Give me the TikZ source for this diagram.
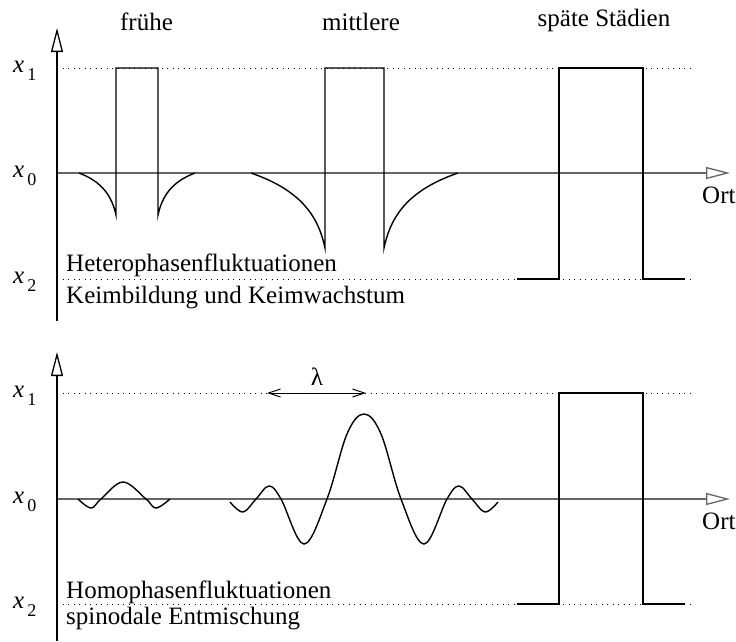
\documentclass[tikz,border=0pt]{standalone}
\usepackage{fontspec}
\setmainfont{Liberation Serif}
\usetikzlibrary{arrows.meta}

% label x with lowered index
\newcommand{\xsub}[1]{\textit{x}\kern3pt\raisebox{-8pt}{\fontsize{18}{18}\selectfont #1}}

\begin{document}
\begin{tikzpicture}[x=1pt, y=-1pt,
    every node/.style={font=\fontsize{25}{30}\selectfont, inner sep=0pt},
    axis/.style={line width=1.3pt, -{Triangle[open, length=24pt, width=12pt]}},
    base/.style={line width=1.3pt, black!60, -{Triangle[open, length=24pt, width=12pt]}},
    curve/.style={line width=1.4pt},
    level/.style={line width=0.9pt, dash pattern=on 1pt off 4.5pt},
    barb/.style={line width=1pt, {Straight Barb[length=12pt, width=8pt]}-{Straight Barb[length=12pt, width=8pt]}}]

    \useasboundingbox (0,0) rectangle (736,641);

    % === Axis limits ===
    \def\xo{57}   \def\xe{730}  \def\xd{690}
    % upper panel
    \def\ua{68}   \def\ub{173}  \def\uc{279}
    % lower panel
    \def\la{393}  \def\lb{499}  \def\lc{604}

    % === Titles ===
    \node[anchor=base] (early) at (146.5,30) {frühe};
    \node[anchor=base] (middle) at (361,30) {mittlere};
    \node[anchor=base] (late) at (604,26) {späte Städien};

    % === Upper panel: levels ===
    \draw[level] (\xo,\ua) -- (\xd,\ua);
    \draw[level] (\xo,\uc) -- (\xd,\uc);
    \draw[base] (\xo,\ub) -- (\xe,\ub);
    \draw[axis] (\xo,321) -- (\xo,28);

    \node[anchor=base west] (ua) at (13,\ua+4) {\xsub{1}};
    \node[anchor=base west] (ub) at (13,\ub+4) {\xsub{0}};
    \node[anchor=base west] (uc) at (13,\uc+4) {\xsub{2}};
    \node[anchor=base west] (ortu) at (702,203) {Ort};

    % early stage
    \draw[curve] (79,\ub) .. controls (103,182) and (112,197) .. (116,215)
        -- (116,\ua) -- (158,\ua) -- (158,215)
        .. controls (162,197) and (171,182) .. (195,\ub);
    % middle stage
    \draw[curve] (251,\ub) .. controls (300,190) and (318,215) .. (325,248)
        -- (325,\ua) -- (384,\ua) -- (384,248)
        .. controls (391,215) and (409,190) .. (458,\ub);
    % late stage
    \draw[curve] (517,\uc) -- (559,\uc) -- (559,\ua) -- (643,\ua) -- (643,\uc) -- (685,\uc);

    \node[anchor=base west] (hetero) at (66,271) {Heterophasenfluktuationen};
    \node[anchor=base west] (keim) at (66,303) {Keimbildung und Keimwachstum};

    % === Lower panel: levels ===
    \draw[level] (\xo,\la) -- (\xd,\la);
    \draw[level] (\xo,\lc) -- (\xd,\lc);
    \draw[base] (\xo,\lb) -- (\xe,\lb);
    \draw[axis] (\xo,641) -- (\xo,352);

    \node[anchor=base west] (la) at (13,\la+4) {\xsub{1}};
    \node[anchor=base west] (lb) at (13,\lb+4) {\xsub{0}};
    \node[anchor=base west] (lc) at (13,\lc+4) {\xsub{2}};
    \node[anchor=base west] (ortl) at (702,529) {Ort};

    % wavelength
    \coordinate (lamL) at (267,\la);
    \coordinate (lamR) at (366,\la);
    \draw[barb] (lamL) -- (lamR);
    \node[anchor=base] (lam) at (317,385) {λ};

    % early stage
    \draw[curve] plot[smooth, tension=0.6] coordinates
        {(78,499) (91,508) (101,499) (123,482) (146,499) (156,508) (170,499)};
    % middle stage
    \draw[curve] plot[smooth, tension=0.6] coordinates
        {(230,502) (243,512) (256,499) (269,486) (281,499) (304,544) (327,499)
         (347,434) (364,414) (381,434)
         (401,499) (424,544) (447,499) (459,486) (472,499) (485,512) (498,502)};
    % late stage
    \draw[curve] (517,\lc) -- (559,\lc) -- (559,\la) -- (643,\la) -- (643,\lc) -- (685,\lc);

    \node[anchor=base west] (homo) at (66,598) {Homophasenfluktuationen};
    \node[anchor=base west] (spin) at (66,624) {spinodale Entmischung};

\end{tikzpicture}
\end{document}
